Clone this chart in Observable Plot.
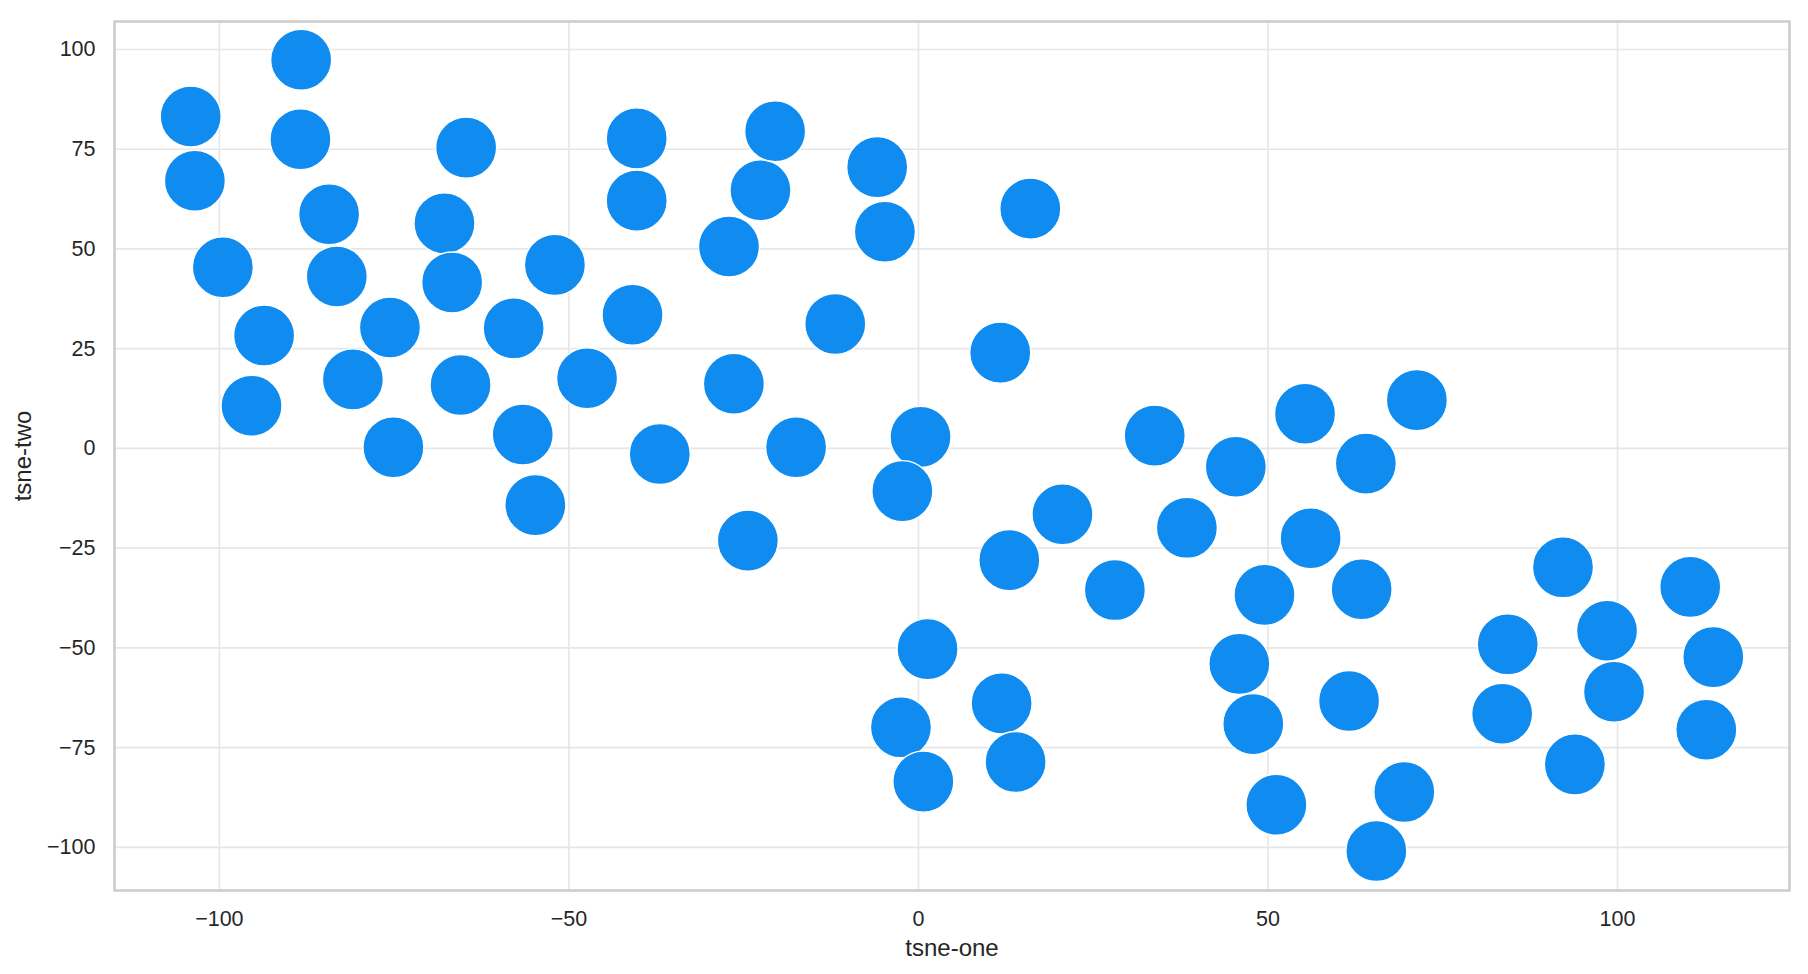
<!DOCTYPE html>
<html>
<head>
<meta charset="utf-8">
<script src="https://cdn.jsdelivr.net/npm/d3@7"></script>
<script src="https://cdn.jsdelivr.net/npm/@observablehq/plot@0.6"></script>
<style>
  html, body { margin: 0; padding: 0; background: #ffffff; }
  #chart { width: 1808px; height: 974px; }
</style>
</head>
<body>
<div id="chart"></div>
<script>
// t-SNE coordinates
const tsneOne = [
  -104.1, -88.3, -103.5, -88.4, -84.3, -99.5, -83.2, -93.6, -95.4, -80.9,
  -75.6, -75.1, -64.7, -67.8, -66.7, -65.5, -57.9, -56.6, -54.8, -52.0,
  -47.4, -40.3, -40.3, -40.9, -37.0, -27.1, -26.4, -24.4, -22.6, -20.5,
  -17.5, -11.9, -5.9, -4.8, 0.3, -2.3, 16.0, 11.7, 20.6, 13.0,
  1.3, 11.9, -2.5, 13.9, 0.7, 28.1, 33.8, 38.4, 45.4, 49.5,
  45.9, 47.9, 51.2, 55.3, 56.1, 64.0, 71.3, 63.4, 61.6, 69.5,
  65.5, 84.3, 83.5, 92.2, 98.5, 99.5, 93.9, 110.4, 113.7, 112.7
];
const tsneTwo = [
  83.2, 97.4, 67.1, 77.5, 58.7, 45.4, 43.1, 28.3, 10.7, 17.3,
  30.3, 0.3, 75.4, 56.4, 41.6, 15.9, 30.1, 3.5, -14.2, 46.0,
  17.6, 77.7, 62.1, 33.5, -1.4, 50.6, 16.2, -23.1, 64.7, 79.5,
  0.3, 31.2, 70.5, 54.3, 2.9, -10.7, 60.1, 24.0, -16.5, -28.0,
  -50.3, -63.9, -69.9, -78.6, -83.5, -35.5, 3.2, -19.9, -4.6, -36.7,
  -54.0, -69.1, -89.3, 8.7, -22.5, -3.8, 12.1, -35.3, -63.3, -86.1,
  -100.9, -49.1, -66.5, -29.8, -45.7, -61.0, -79.2, -34.7, -52.3, -70.5
];
const xTicks = [-100, -50, 0, 50, 100];
const yTicks = [-100, -75, -50, -25, 0, 25, 50, 75, 100];
const xLabel = "tsne-one";
const yLabel = "tsne-two";

const points = tsneOne.map((x, i) => ({x, y: tsneTwo[i]}));

const font = "'Liberation Sans', Arial, 'DejaVu Sans', sans-serif";
const fmt = d => d3.format("")(d).replace("-", "\u2212");

const chart = Plot.plot({
  width: 1808,
  height: 974,
  marginLeft: 114,
  marginRight: 19,
  marginTop: 21,
  marginBottom: 84,
  style: {fontFamily: font, fontSize: "21.5px", color: "#262626", background: "#ffffff", overflow: "visible"},
  x: {domain: [-115.0, 124.6]},
  y: {domain: [-110.8, 107.0]},
  marks: [
    Plot.gridX(xTicks, {stroke: "#e6e6e6", strokeOpacity: 1, strokeWidth: 1.6}),
    Plot.gridY(yTicks, {stroke: "#e6e6e6", strokeOpacity: 1, strokeWidth: 1.6}),
    Plot.dot(points, {x: "x", y: "y", r: 30.5, fill: "#108bf0", stroke: "#ffffff", strokeWidth: 1.4}),
    Plot.frame({stroke: "#cccccc", strokeWidth: 2.6}),
    Plot.axisX(xTicks, {
      tickSize: 0, tickPadding: 20, fontSize: 21.5, fill: "#262626",
      tickFormat: fmt,
      label: xLabel, labelAnchor: "center", labelArrow: "none", labelOffset: 65
    }),
    Plot.axisY(yTicks, {
      tickSize: 0, tickPadding: 19, fontSize: 21.5, fill: "#262626",
      tickFormat: fmt,
      label: yLabel, labelAnchor: "center", labelArrow: "none", labelOffset: 101
    })
  ]
});
chart.querySelectorAll("g[aria-label='x-axis label'], g[aria-label='y-axis label']").forEach(g => {
  g.setAttribute("font-size", "24");
  g.querySelectorAll("text").forEach(t => t.setAttribute("font-size", "24"));
});
document.getElementById("chart").appendChild(chart);
</script>
</body>
</html>
